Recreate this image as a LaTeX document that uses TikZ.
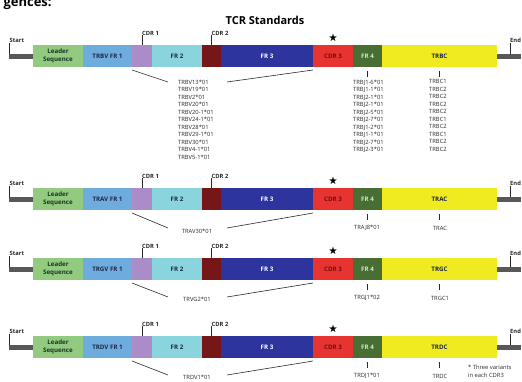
\documentclass[tikz,border=0pt]{standalone}
\usepackage{amssymb}
\usepackage{fontspec}
\setmainfont{Open Sans}
\usetikzlibrary{positioning}

\definecolor{leadc}{RGB}{146,203,128}
\definecolor{leadt}{RGB}{28,52,36}
\definecolor{fronec}{RGB}{111,172,222}
\definecolor{cdronec}{RGB}{170,140,200}
\definecolor{frtwoc}{RGB}{138,212,222}
\definecolor{cdrtwoc}{RGB}{118,22,22}
\definecolor{frthreec}{RGB}{45,52,158}
\definecolor{cdrthreec}{RGB}{232,52,48}
\definecolor{cdrthreet}{RGB}{110,14,14}
\definecolor{frfourc}{RGB}{72,110,52}
\definecolor{frfourt}{RGB}{215,232,200}
\definecolor{constc}{RGB}{240,234,32}
\definecolor{barc}{RGB}{88,88,88}
\definecolor{labc}{RGB}{30,40,70}
\definecolor{listc}{RGB}{40,40,40}

\tikzset{
  seg/.style={rectangle,inner sep=0pt,outer sep=0pt,minimum height=22pt,text=labc,
    font=\fontsize{6.2}{7.8}\selectfont\bfseries,align=center},
  lab/.style={inner sep=0pt,text=black!85,font=\fontsize{5.8}{6}\selectfont\bfseries},
  lst/.style={inner sep=0pt,text=listc,font=\fontsize{5.8}{7.5}\selectfont,align=left},
  lin/.style={draw=listc,line width=0.6pt},
  bar/.style={draw=barc,line width=5pt}
}

% one chain of segments: name, top, V prefix, C region
\newcommand{\tcrrow}[4]{%
  \node[seg,fill=leadc,text=leadt,minimum width=50pt,anchor=north west] (#1L) at (33,#2) {Leader\\Sequence};
  \node[seg,fill=fronec,minimum width=49pt,right=0pt of #1L] (#1F1) {#3 FR 1};
  \node[seg,fill=cdronec,minimum width=20pt,right=0pt of #1F1] (#1C1) {};
  \node[seg,fill=frtwoc,minimum width=50pt,right=0pt of #1C1] (#1F2) {FR 2};
  \node[seg,fill=cdrtwoc,minimum width=19pt,right=0pt of #1F2] (#1C2) {};
  \node[seg,fill=frthreec,text=white,minimum width=92pt,right=0pt of #1C2] (#1F3) {FR 3};
  \node[seg,fill=cdrthreec,text=cdrthreet,minimum width=40pt,right=0pt of #1F3] (#1C3) {CDR 3};
  \node[seg,fill=frfourc,text=frfourt,minimum width=29pt,right=0pt of #1C3] (#1F4) {FR 4};
  \node[seg,fill=constc,minimum width=115pt,right=0pt of #1F4] (#1K) {#4};
  \coordinate (#1s) at (9,#2+11);
  \coordinate (#1e) at (521,#2+11);
  \node[lab,anchor=base west] (#1st) at (9.5,#2-2.5) {Start};
  \node[lab,anchor=base west] (#1en) at (510,#2-2.5) {End};
  \node[lab,anchor=base west] (#1c1) at ([yshift=10pt]#1C1.north) {CDR 1};
  \node[lab,anchor=base west] (#1c2) at ([yshift=10pt]#1C2.north) {CDR 2};
  \node[inner sep=0pt,font=\fontsize{9}{9}\selectfont] (#1sr) at ([yshift=7pt]#1C3.north) {$\bigstar$};
  \draw[lin] (#1st.base west) -- (#1st.base west |- #1s);
  \draw[lin] (#1en.base west) -- (#1en.base west |- #1e);
  \draw[lin] (#1c1.base west) -- (#1C1.north);
  \draw[lin] (#1c2.base west) -- (#1C2.north);
  \draw[bar] (#1s) -- (#1L.west);
  \draw[bar] (#1K.east) -- (#1e);
  \draw[lin] ([yshift=-4pt]#1F4.south) -- ([yshift=-10pt]#1F4.south);
  \draw[lin] ([yshift=-4pt]#1K.south) -- ([yshift=-10pt]#1K.south);
}

\begin{document}
\begin{tikzpicture}[x=1pt,y=-1pt]
\useasboundingbox (0,0) rectangle (522,381);

\node[font=\fontsize{13}{13}\selectfont\bfseries,anchor=base west] (head) at (0,6) {gences:};
\node[font=\fontsize{11}{11}\selectfont\bfseries] (title) at (265,20) {TCR Standards};

\tcrrow{b}{45}{TRBV}{TRBC}
\tcrrow{a}{188}{TRAV}{TRAC}
\tcrrow{g}{258}{TRGV}{TRGC}
\tcrrow{d}{336}{TRDV}{TRDC}

% beta
\node[lst,anchor=north west] (bv) at (178,79.5) {TRBV13*01\\TRBV19*01\\TRBV2*01\\TRBV20*01\\TRBV20-1*01\\TRBV24-1*01\\TRBV28*01\\TRBV29-1*01\\TRBV30*01\\TRBV4-1*01\\TRBV5-1*01};
\node[lst,anchor=north west] (bj) at (353,79.5) {TRBJ1-6*01\\TRBJ1-1*01\\TRBJ2-1*01\\TRBJ2-1*01\\TRBJ2-5*01\\TRBJ2-7*01\\TRBJ1-2*01\\TRBJ1-1*01\\TRBJ2-7*01\\TRBJ2-3*01};
\node[lst,anchor=north west] (bk) at (429,79.5) {TRBC1\\TRBC2\\TRBC2\\TRBC2\\TRBC2\\TRBC1\\TRBC2\\TRBC1\\TRBC2\\TRBC2};
\coordinate (bvl) at (168,82);
\coordinate (bvr) at (227,82);

% alpha
\node[lst] (av) at (197,231) {TRAV30*01};
\node[lst] (aj) at (367,228) {TRAJ8*01};
\node[lst] (ak) at (440,228) {TRAC};
\coordinate (avl) at (168,228);
\coordinate (avr) at (227,228);

% gamma
\node[lst] (gv) at (197,299) {TRVG2*01};
\node[lst] (gj) at (367,298) {TRGJ1*02};
\node[lst] (gk) at (440,298) {TRGC1};
\coordinate (gvl) at (168,297);
\coordinate (gvr) at (227,297);

% delta
\node[lst] (dv) at (197,377) {TRDV1*01};
\node[lst] (dj) at (367,376) {TRDJ1*01};
\node[lst] (dk) at (440,376) {TRDC};
\coordinate (dvl) at (168,375);
\coordinate (dvr) at (227,375);

\foreach \r in {b,a,g,d}{
  \draw[lin] ([yshift=-3pt]\r F1.south east) -- (\r vl);
  \draw[lin] (\r vr) -- ([yshift=-3pt]\r F3.south east);
}

\node[lst,anchor=north west] (note) at (468,365) {* Three variants\\in each CDR3};
\end{tikzpicture}
\end{document}
